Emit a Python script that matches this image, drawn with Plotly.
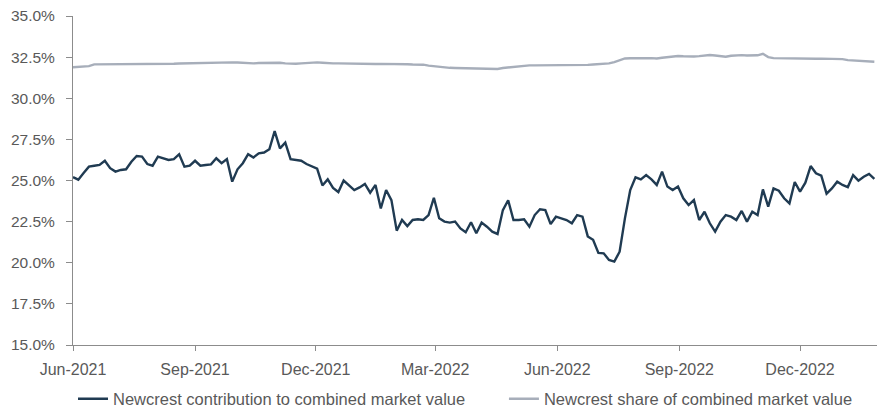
import pandas as pd
import plotly.graph_objects as go

start_date = "2021-06-01"
step = "4D"

contribution = [
    25.2, 25.05, 25.45, 25.84, 25.9, 25.95, 26.2, 25.75, 25.54, 25.64,
    25.68, 26.14, 26.49, 26.45, 26.0, 25.9, 26.45, 26.35, 26.25, 26.3,
    26.6, 25.84, 25.9, 26.2, 25.9, 25.94, 25.98, 26.35, 26.05, 26.3,
    24.93, 25.68, 26.05, 26.6, 26.4, 26.65, 26.7, 26.9, 28.0, 26.95,
    27.3, 26.3, 26.25, 26.2, 26.0, 25.88, 25.72, 24.7, 25.07, 24.55,
    24.3, 25.0, 24.73, 24.42, 24.58, 24.79, 24.26, 24.73, 23.3, 24.42,
    23.81, 21.95, 22.6, 22.23, 22.6, 22.64, 22.6, 22.9, 23.95, 22.7,
    22.5, 22.44, 22.5, 22.09, 21.85, 22.46, 21.79, 22.44, 22.19, 21.89,
    21.75, 23.2, 23.8, 22.6, 22.6, 22.64, 22.19, 22.9, 23.25, 23.2,
    22.35, 22.8, 22.7, 22.6, 22.4, 22.9, 22.8, 21.6, 21.4, 20.6,
    20.57, 20.17, 20.07, 20.67, 22.7, 24.42, 25.19, 25.07, 25.33, 25.07,
    24.73, 25.54, 24.63, 24.42, 24.63, 23.92, 23.51, 23.81, 22.6, 23.1,
    22.4, 21.89, 22.5, 22.9, 22.8, 22.6, 23.15, 22.5, 23.1, 22.9,
    24.46, 23.41, 24.52, 24.38, 23.92, 23.61, 24.91, 24.32, 24.87, 25.88,
    25.44, 25.29, 24.2, 24.52, 24.93, 24.73, 24.6, 25.33, 24.99, 25.23,
    25.4, 25.1,
]

share = [
    31.88, 31.9, 31.92, 31.95, 32.06, 32.06, 32.07, 32.06, 32.06, 32.07,
    32.07, 32.06, 32.07, 32.08, 32.07, 32.08, 32.08, 32.07, 32.09, 32.1,
    32.11, 32.12, 32.12, 32.13, 32.14, 32.15, 32.16, 32.17, 32.18, 32.18,
    32.18, 32.17, 32.15, 32.13, 32.12, 32.14, 32.15, 32.16, 32.15, 32.16,
    32.12, 32.1, 32.1, 32.12, 32.15, 32.17, 32.18, 32.16, 32.13, 32.12,
    32.12, 32.11, 32.12, 32.1, 32.1, 32.09, 32.08, 32.08, 32.09, 32.09,
    32.1, 32.1, 32.09, 32.07, 32.05, 32.04, 32.04, 31.98, 31.94, 31.9,
    31.88, 31.85, 31.84, 31.83, 31.82, 31.81, 31.8, 31.79, 31.79, 31.78,
    31.78, 31.84, 31.88, 31.92, 31.95, 31.98, 32.0, 32.0, 32.0, 32.01,
    32.0, 32.0, 32.01, 32.02, 32.01, 32.02, 32.02, 32.03, 32.05, 32.07,
    32.1, 32.12, 32.2, 32.3, 32.42, 32.43, 32.42, 32.42, 32.43, 32.44,
    32.42, 32.46, 32.5, 32.55, 32.57, 32.55, 32.53, 32.54, 32.56, 32.6,
    32.63, 32.6, 32.55, 32.52, 32.58, 32.61, 32.62, 32.6, 32.62, 32.61,
    32.7, 32.5, 32.44, 32.43, 32.42, 32.42, 32.43, 32.4, 32.42, 32.41,
    32.4, 32.41, 32.4, 32.39, 32.4, 32.38, 32.32, 32.3, 32.28, 32.25,
    32.24, 32.22,
]

series_names = [
    "Newcrest contribution to combined market value",
    "Newcrest share of combined market value",
]
y_ticks = [15.0, 17.5, 20.0, 22.5, 25.0, 27.5, 30.0, 32.5, 35.0]
x_ticks = ["2021-06-01", "2021-09-01", "2021-12-01", "2022-03-01",
           "2022-06-01", "2022-09-01", "2022-12-01"]
x_end = "2023-01-28"

dates = pd.date_range(start_date, periods=len(contribution), freq=step)

FONT = "Liberation Sans, Arial, sans-serif"
TXT = "#595959"
AX = "#8C8C8C"

fig = go.Figure()
fig.add_trace(go.Scatter(x=dates, y=contribution, mode="lines",
                         name=series_names[0], legend="legend",
                         line=dict(color="#203B52", width=2.4)))
fig.add_trace(go.Scatter(x=dates, y=share, mode="lines",
                         name=series_names[1], legend="legend2",
                         line=dict(color="#A7AEBA", width=2.4)))

leg_common = dict(orientation="h", y=-0.164, yanchor="middle", xanchor="left",
                  font=dict(family=FONT, size=16.5, color=TXT),
                  bgcolor="rgba(0,0,0,0)", borderwidth=0, itemwidth=30)

fig.update_layout(
    width=877, height=412,
    margin=dict(l=73, r=0, t=16, b=67, autoexpand=False),
    paper_bgcolor="white", plot_bgcolor="white",
    font=dict(family=FONT, size=16, color=TXT),
    showlegend=True,
    legend=dict(x=0.0, **leg_common),
    legend2=dict(x=0.536, **leg_common),
)
fig.update_xaxes(
    type="date", range=[start_date, x_end],
    tickvals=x_ticks, tickformat="%b-%Y",
    showgrid=False, zeroline=False,
    showline=True, linecolor=AX, linewidth=1,
    ticks="outside", ticklen=5, tickcolor=AX,
    ticklabelstandoff=5,
    tickfont=dict(family=FONT, size=16, color=TXT),
)
fig.update_yaxes(
    range=[15, 35], tickvals=y_ticks, ticktext=[f"{v:.1f}%" for v in y_ticks],
    showgrid=False, zeroline=False,
    showline=True, linecolor=AX, linewidth=1,
    ticks="outside", ticklen=6, tickcolor=AX,
    ticklabelstandoff=8,
    tickfont=dict(family=FONT, size=15.5, color=TXT),
)

fig.write_html("out.html",
               config={"displayModeBar": False},
               post_script="document.body.style.margin='0px';document.body.style.padding='0px';")
